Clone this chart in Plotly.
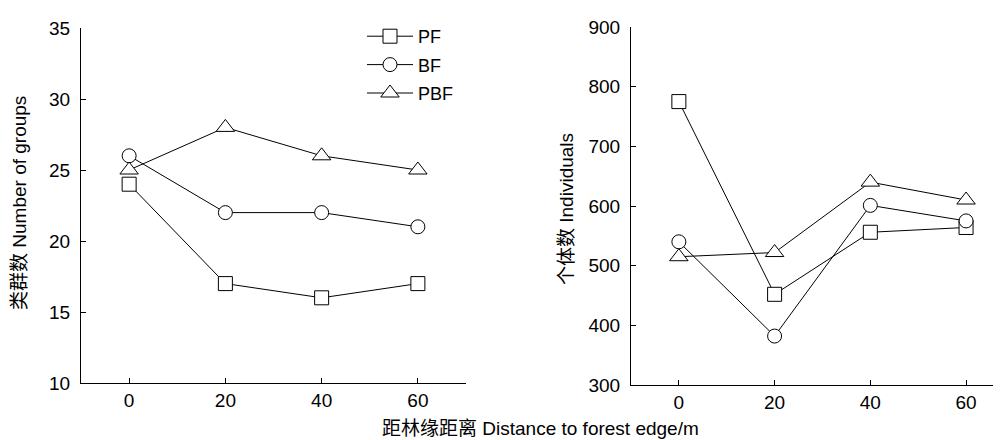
import plotly.graph_objects as go

distance = [0, 20, 40, 60]
series_names = ["PF", "BF", "PBF"]
groups_PF = [24, 17, 16, 17]
groups_BF = [26, 22, 22, 21]
groups_PBF = [25, 28, 26, 25]
indiv_PF = [775, 452, 556, 564]
indiv_BF = [540, 382, 601, 575]
indiv_PBF = [515, 522, 640, 610]

symbols = {"PF": "square", "BF": "circle", "PBF": "triangle-up"}
sizes = {"PF": 14, "BF": 14, "PBF": 16}
FONT = "Liberation Sans, Arial, Noto Sans CJK SC"

fig = go.Figure()
left = {"PF": groups_PF, "BF": groups_BF, "PBF": groups_PBF}
right = {"PF": indiv_PF, "BF": indiv_BF, "PBF": indiv_PBF}
for name in series_names:
    fig.add_trace(go.Scatter(
        x=distance, y=left[name], name=name, mode="lines+markers",
        legendgroup=name,
        line=dict(color="black", width=1),
        marker=dict(symbol=symbols[name], size=sizes[name], color="white",
                    line=dict(color="black", width=1)),
        xaxis="x", yaxis="y", showlegend=True))
for name in series_names:
    fig.add_trace(go.Scatter(
        x=distance, y=right[name], name=name, mode="lines+markers",
        legendgroup=name,
        line=dict(color="black", width=1),
        marker=dict(symbol=symbols[name], size=sizes[name], color="white",
                    line=dict(color="black", width=1)),
        xaxis="x2", yaxis="y2", showlegend=False))

# page is offset by the 8px body margin
W, H = 993, 432
OFF = 8
def px_x(p):
    return (p - OFF) / W
def px_y(p):
    return 1 - (p - OFF) / H

axis_common = dict(showline=True, linecolor="black", linewidth=1, showgrid=False,
                   zeroline=False, ticks="inside", ticklen=5, tickcolor="black",
                   tickwidth=1, automargin=False,
                   tickfont=dict(family=FONT, size=19, color="black"))

fig.update_layout(
    template="none",
    width=W, height=H, margin=dict(l=0, r=0, t=0, b=0, pad=0),
    plot_bgcolor="white", paper_bgcolor="white",
    font=dict(family=FONT, size=18, color="black"),
    xaxis=dict(domain=[px_x(81), px_x(466)], range=[-10, 70], tickvals=distance,
               anchor="y", ticklabelstandoff=0, **axis_common),
    yaxis=dict(domain=[px_y(383), px_y(28)], range=[10, 35],
               tickvals=[10, 15, 20, 25, 30, 35], anchor="x",
               ticklabelstandoff=6, **axis_common),
    xaxis2=dict(domain=[px_x(631), 1.0], range=[-10, 67.3], tickvals=distance,
                anchor="y2", ticklabelstandoff=0, **axis_common),
    yaxis2=dict(domain=[px_y(385), px_y(27)], range=[300, 900],
                tickvals=[300, 400, 500, 600, 700, 800, 900], anchor="x2",
                ticklabelstandoff=6, **axis_common),
    legend=dict(x=px_x(362), y=px_y(18), xanchor="left", yanchor="top",
                bgcolor="rgba(0,0,0,0)", font=dict(family=FONT, size=18),
                tracegroupgap=2, itemwidth=46),
    annotations=[
        dict(text="类群数 Number of groups", x=px_x(20), y=px_y(203), xref="paper",
             yref="paper", textangle=-90, showarrow=False,
             xanchor="center", yanchor="middle",
             font=dict(family=FONT, size=19)),
        dict(text="个体数 Individuals", x=px_x(566), y=px_y(209), xref="paper",
             yref="paper", textangle=-90, showarrow=False,
             xanchor="center", yanchor="middle",
             font=dict(family=FONT, size=19)),
        dict(text="距林缘距离 Distance to forest edge/m", x=px_x(540), y=px_y(428),
             xref="paper", yref="paper", showarrow=False,
             xanchor="center", yanchor="middle",
             font=dict(family=FONT, size=19)),
    ],
)

fig.write_html("out.html")
